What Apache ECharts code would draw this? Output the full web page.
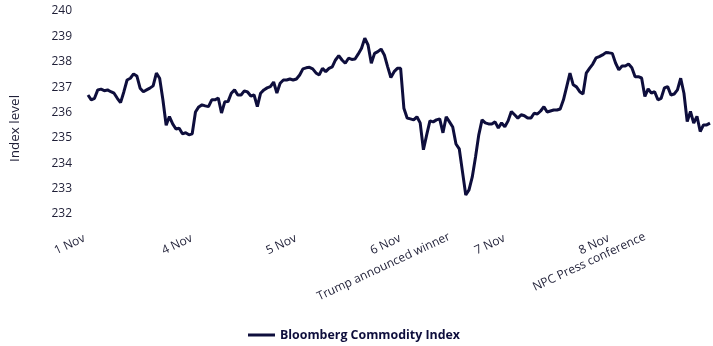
<!DOCTYPE html>
<html>
<head>
<meta charset="utf-8">
<script src="https://cdn.jsdelivr.net/npm/echarts@6/dist/echarts.min.js"></script>
<style>
  html, body { margin: 0; padding: 0; background: #fff; }
  #chart { width: 713px; height: 346px; }
</style>
</head>
<body>
<div id="chart"></div>
<script>
const seriesName = 'Bloomberg Commodity Index';
// first point of each trading day
const dayIdx = [0, 33, 65, 97, 129, 161];
const dayLabels = ['1 Nov', '4 Nov', '5 Nov', '6 Nov', '7 Nov', '8 Nov'];
// points where the two events are marked
const eventIdx = [111, 171];
const eventLabels = ['Trump announced winner', 'NPC Press conference'];
const yMin = 232;
const yMax = 240;
const yStep = 1;
const values = [
  236.69, 236.50, 236.56, 236.89, 236.92, 236.86, 236.89, 236.82, 236.76, 236.56, 236.39, 236.81,
  237.28, 237.35, 237.52, 237.44, 236.96, 236.82, 236.89, 236.96, 237.05, 237.55, 237.35, 236.50,
  235.50, 235.84, 235.55, 235.35, 235.38, 235.16, 235.20, 235.12, 235.16, 236.02, 236.22, 236.30,
  236.26, 236.23, 236.50, 236.50, 236.57, 235.98, 236.42, 236.43, 236.76, 236.89, 236.69, 236.69,
  236.85, 236.81, 236.65, 236.69, 236.23, 236.76, 236.89, 236.97, 237.02, 237.20, 236.77, 237.15,
  237.28, 237.28, 237.32, 237.28, 237.32, 237.48, 237.72, 237.76, 237.78, 237.72, 237.56, 237.48,
  237.74, 237.61, 237.74, 237.80, 238.07, 238.24, 238.07, 237.94, 238.14, 238.09, 238.11, 238.31,
  238.53, 238.93, 238.66, 237.94, 238.33, 238.40, 238.50, 238.27, 237.81, 237.38, 237.61, 237.74,
  237.74, 236.17, 235.78, 235.75, 235.71, 235.83, 235.59, 234.53, 235.12, 235.67, 235.63, 235.71,
  235.75, 235.20, 235.83, 235.63, 235.43, 234.76, 234.57, 233.66, 232.75, 232.95, 233.46, 234.25,
  235.12, 235.71, 235.59, 235.55, 235.55, 235.63, 235.39, 235.59, 235.44, 235.67, 236.04, 235.91,
  235.78, 235.91, 235.87, 235.78, 235.78, 235.97, 235.94, 236.06, 236.23, 236.02, 236.06, 236.10,
  236.10, 236.14, 236.50, 237.02, 237.55, 237.09, 237.01, 236.82, 236.73, 237.55, 237.74, 237.91,
  238.15, 238.20, 238.27, 238.36, 238.35, 238.33, 237.95, 237.68, 237.83, 237.83, 237.91, 237.76,
  237.41, 237.41, 237.36, 236.63, 236.93, 236.76, 236.82, 236.50, 236.56, 236.97, 237.02, 236.69,
  236.73, 236.89, 237.35, 236.76, 235.64, 236.04, 235.58, 235.85, 235.25, 235.51, 235.51, 235.58
];

const FONT = '"Open Sans", sans-serif';
const TEXT = '#1e1e36';
const NAVY = '#0e0e3c';

// shared look of the two bottom axes (dates and events)
function bottomAxis(ticks, labels, pad) {
  return {
    type: 'value',
    position: 'bottom',
    min: 0,
    max: values.length - 1,
    axisLine: { show: false },
    axisTick: { show: false },
    splitLine: { show: false },
    axisLabel: {
      customValues: ticks,
      rotate: 25,
      margin: 22,
      padding: [0, pad, 0, 0],
      fontSize: 12,
      color: TEXT,
      formatter: function (v) { return labels[ticks.indexOf(v)]; }
    }
  };
}

const chart = echarts.init(document.getElementById('chart'));
chart.setOption({
  animation: false,
  textStyle: { fontFamily: FONT },
  grid: { left: 73, right: 3, top: 11, bottom: 132 },
  legend: {
    data: [seriesName],
    left: 243,
    top: 324,
    icon: 'rect',
    itemWidth: 27,
    itemHeight: 3,
    textStyle: { fontFamily: FONT, fontSize: 12.4, fontWeight: 'bold', color: NAVY }
  },
  xAxis: [bottomAxis(dayIdx, dayLabels, 4), bottomAxis(eventIdx, eventLabels, 0)],
  yAxis: {
    type: 'value',
    min: yMin,
    max: yMax,
    interval: yStep,
    name: '{n|Index level}',
    nameLocation: 'middle',
    nameGap: 66,
    nameRotate: 90,
    nameTextStyle: {
      rich: { n: { fontSize: 13.5, color: TEXT, fontFamily: FONT, padding: [0, 32, 0, 0] } }
    },
    axisLine: { show: false },
    axisTick: { show: false },
    splitLine: { show: false },
    axisLabel: { margin: 16, fontSize: 12, color: TEXT }
  },
  series: [{
    name: seriesName,
    type: 'line',
    data: values.map((v, i) => [i, v]),
    showSymbol: false,
    symbol: 'none',
    lineStyle: { width: 3, color: NAVY },
    itemStyle: { color: NAVY }
  }]
});
</script>
</body>
</html>
